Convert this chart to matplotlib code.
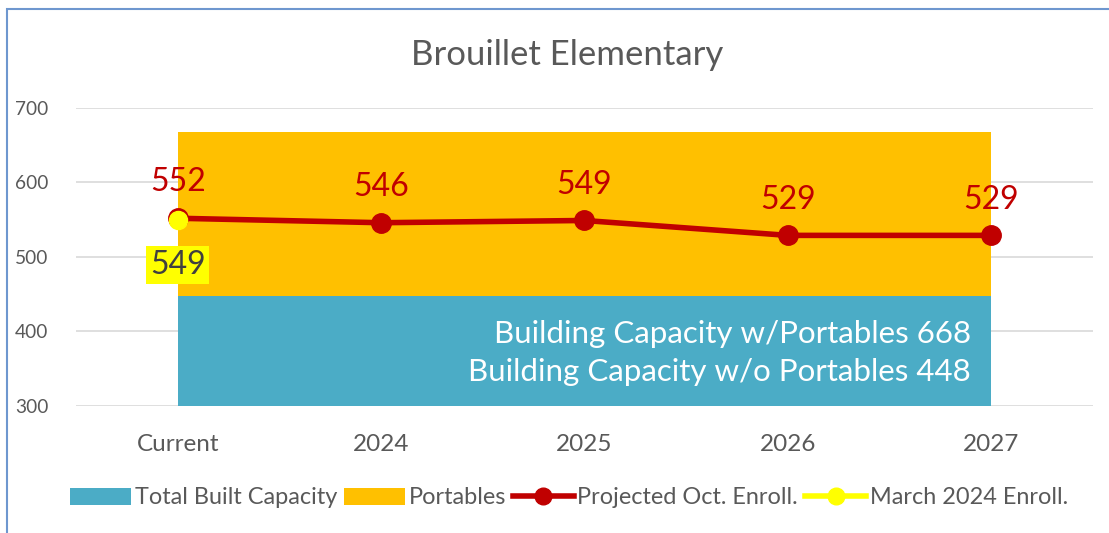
import matplotlib.pyplot as plt
from matplotlib.patches import Patch, Rectangle
from matplotlib.lines import Line2D

categories = ["Current", "2024", "2025", "2026", "2027"]
built_capacity = [448, 448, 448, 448, 448]
with_portables = [668, 668, 668, 668, 668]
projected = [552, 546, 549, 529, 529]
march_enroll = [549]

plt.rcParams["font.family"] = ["Lato", "DejaVu Sans"]

fig = plt.figure(figsize=(11.09, 5.33), dpi=100)
ax = fig.add_axes([0.0685, 0.2383, 0.917, 0.5591])

x = [i + 0.5 for i in range(len(categories))]

# stacked areas
ax.fill_between(x, 300, built_capacity, color="#4BACC6", linewidth=0, zorder=2)
ax.fill_between(x, built_capacity, with_portables, color="#FFC000", linewidth=0, zorder=2)

# projected line
ax.plot(x, projected, color="#C00000", linewidth=4, marker="o",
        markersize=14, zorder=4)
for xi, v in zip(x, projected):
    ax.text(xi, v + 28, str(v), color="#C00000", fontsize=23,
            ha="center", va="bottom", zorder=6)

# march point
ax.plot(x[:1], march_enroll, color="#FFFF00", marker="o", markersize=13,
        linestyle="None", zorder=5)
ax.text(x[0], march_enroll[0] - 40, str(march_enroll[0]), color="#404040",
        fontsize=23, ha="center", va="top", zorder=6,
        bbox=dict(boxstyle="square,pad=0.12", facecolor="#FFFF00", edgecolor="none"))

# capacity text
ax.text(x[-1] - 0.1, 396, "Building Capacity w/Portables %d" % with_portables[0],
        color="white", fontsize=22.5, ha="right", va="center", zorder=6)
ax.text(x[-1] - 0.1, 345, "Building Capacity w/o Portables %d" % built_capacity[0],
        color="white", fontsize=22.5, ha="right", va="center", zorder=6)

ax.set_xlim(0, 5)
ax.set_ylim(300, 700)
ax.set_yticks([300, 400, 500, 600, 700])
ax.set_xticks(x)
ax.set_xticklabels(categories)
ax.tick_params(axis="y", length=0, labelsize=13.8, labelcolor="#595959", pad=20)
ax.tick_params(axis="x", length=0, labelsize=17.5, labelcolor="#595959", pad=20)
ax.grid(axis="y", color="#D9D9D9", linewidth=1.2, zorder=0)
ax.set_axisbelow(True)
for s in ax.spines.values():
    s.set_visible(False)

fig.text(0.511, 0.897, "Brouillet Elementary", fontsize=25, color="#595959",
         ha="center", va="center")

handles = [
    Patch(facecolor="#4BACC6", label="Total Built Capacity"),
    Patch(facecolor="#FFC000", label="Portables"),
    Line2D([], [], color="#C00000", linewidth=4, marker="o", markersize=12,
           label="Projected Oct. Enroll."),
    Line2D([], [], color="#FFFF00", linewidth=4, marker="o", markersize=12,
           label="March 2024 Enroll."),
]
leg = fig.legend(handles=handles, loc="center", bbox_to_anchor=(0.513, 0.066),
                 ncol=4, frameon=False, fontsize=16.9, handlelength=2.6,
                 handleheight=0.75, handletextpad=0.15, columnspacing=0.3)
for t in leg.get_texts():
    t.set_color("#595959")

# outer border (right/bottom cut off)
fig.patches.append(Rectangle((0.0063, -0.1), 1.2, 1.083, transform=fig.transFigure,
                             fill=False, edgecolor="#6E97CF", linewidth=1.5))

fig.savefig("out.png", dpi=100)
